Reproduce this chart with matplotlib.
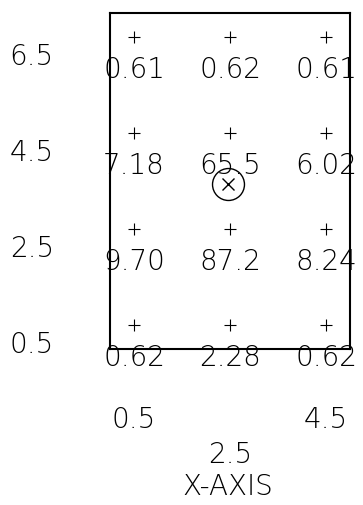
import matplotlib
matplotlib.use('Agg')
from matplotlib import pyplot as plt
import numpy as np

# grid of sample points and the values printed under them
xs = [0.5, 2.5, 4.5]
ys = [6.5, 4.5, 2.5, 0.5]
values = [
    ['0.61', '0.62', '0.61'],
    ['7.18', '65.5', '6.02'],
    ['9.70', '87.2', '8.24'],
    ['0.62', '2.28', '0.62'],
]
center = (2.46, 3.44)
xticks = ['0.5', '2.5', '4.5']
yticks = ['6.5', '4.5', '2.5', '0.5']
xlabel = 'X-AXIS'

plt.rcParams['font.family'] = ['DejaVu Sans']
fig = plt.figure(figsize=(3.63, 5.06), dpi=100)
ax = fig.add_axes([0.303, 0.308, 0.661, 0.664])
ax.set_xlim(0, 5)
ax.set_ylim(0, 7)
ax.set_xticks([])
ax.set_yticks([])
for s in ax.spines.values():
    s.set_linewidth(1.5)

gx, gy = np.meshgrid(xs, ys)
ax.plot(gx.ravel(), gy.ravel(), '+', color='black', markersize=9, markeredgewidth=0.8)

txt = dict(ha='center', va='center', fontsize=20, fontweight='light',
           color='black', clip_on=False)
for i, y in enumerate(ys):
    for j, x in enumerate(xs):
        ax.text(x, y - 0.67, values[i][j], **txt)

ax.plot(center[0], center[1], 'o', markersize=23, markerfacecolor='none',
        markeredgecolor='black', markeredgewidth=1.0)
ax.plot(center[0], center[1], 'x', markersize=9, color='black', markeredgewidth=1.0)

# y tick labels to the left of the box
for lab in yticks:
    ax.text(-1.63, float(lab) - 0.4, lab, **txt)

# x tick labels, the middle one dropped lower like the original
for lab in xticks:
    dy = -2.19 if lab == '2.5' else -1.45
    ax.text(float(lab), dy, lab, **txt)
ax.text(2.45, -2.85, xlabel, **txt)

fig.savefig('out.png', dpi=100)
